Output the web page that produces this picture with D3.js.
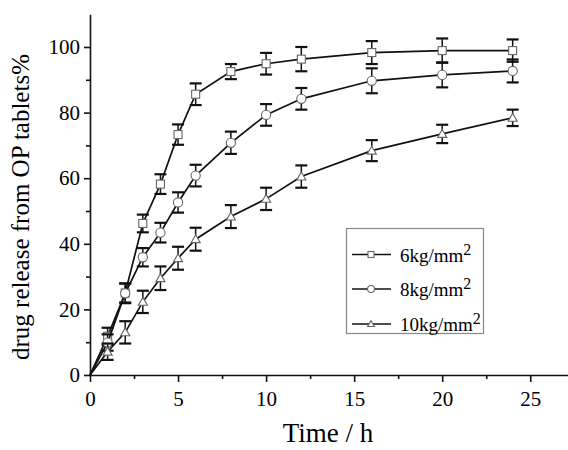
<!DOCTYPE html>
<html>
<head>
<meta charset="utf-8">
<script src="https://cdn.jsdelivr.net/npm/d3@7"></script>
<style>
  body { margin: 0; background: #fff; }
</style>
</head>
<body>
<div id="chart"></div>
<script>
// sampling times (h)
const times = [0, 1, 2, 3, 4, 5, 6, 8, 10, 12, 16, 20, 24];

// cumulative release (%) and error bars
const rel6 = [0, 11.8, 25.0, 46.2, 58.2, 73.3, 85.6, 92.5, 94.9, 96.3, 98.3, 98.9, 98.9];
const err6 = [0, 2.6, 2.9, 2.7, 3.0, 3.1, 3.3, 2.3, 3.3, 3.7, 3.5, 3.7, 3.4];
const rel8 = [0, 9.9, 24.9, 35.9, 43.4, 52.6, 60.8, 70.8, 79.3, 84.2, 89.7, 91.5, 92.7];
const err8 = [0, 2.5, 3.0, 2.8, 3.0, 3.1, 3.3, 3.4, 3.3, 3.3, 3.8, 3.8, 3.5];
const rel10 = [0, 7.1, 13.0, 22.3, 29.5, 35.6, 41.4, 48.3, 53.7, 60.5, 68.4, 73.5, 78.4];
const err10 = [0, 2.5, 3.4, 3.4, 3.6, 3.5, 3.5, 3.5, 3.4, 3.4, 3.2, 2.8, 2.5];

const seriesNames = ["6kg/mm", "8kg/mm", "10kg/mm"];
const seriesShapes = ["square", "circle", "triangle"];

const xTicks = [0, 5, 10, 15, 20, 25];
const xMinor = [2.5, 7.5, 12.5, 17.5, 22.5];
const yTicks = [0, 20, 40, 60, 80, 100];
const yMinor = [10, 30, 50, 70, 90];

const serif = '"Liberation Serif", "Times New Roman", Times, serif';

const W = 568, H = 450;
const svg = d3.select('#chart').append('svg')
  .attr('width', W)
  .attr('height', H)
  .style('font-family', serif);

const x = d3.scaleLinear().domain([0, 27.2]).range([90, 569]);
const y = d3.scaleLinear().domain([0, 110]).range([375, 14.2]);

// axes
const xAxis = svg.append('g')
  .attr('transform', `translate(0,${y(0)})`)
  .call(d3.axisBottom(x).tickValues(xTicks).tickSize(7).tickSizeOuter(0).tickPadding(4));
svg.append('g')
  .attr('transform', `translate(0,${y(0)})`)
  .call(d3.axisBottom(x).tickValues(xMinor).tickSize(4).tickSizeOuter(0).tickFormat(''))
  .select('.domain').remove();

const yAxis = svg.append('g')
  .attr('transform', `translate(${x(0)},0)`)
  .call(d3.axisLeft(y).tickValues(yTicks).tickSize(6).tickSizeOuter(0).tickPadding(4));
svg.append('g')
  .attr('transform', `translate(${x(0)},0)`)
  .call(d3.axisLeft(y).tickValues(yMinor).tickSize(4).tickSizeOuter(0).tickFormat(''))
  .select('.domain').remove();

svg.selectAll('g').attr('font-family', serif);
svg.selectAll('.domain, .tick line')
  .attr('stroke', '#111')
  .attr('stroke-width', 1.6);
xAxis.selectAll('text').style('font-family', serif).style('font-size', '21px').attr('dy', '0.95em');
yAxis.selectAll('text').style('font-family', serif).style('font-size', '21px');

// axis titles
svg.append('text')
  .attr('x', 328).attr('y', 442)
  .attr('text-anchor', 'middle')
  .style('font-family', serif)
  .style('font-size', '27px')
  .text('Time / h');

svg.append('text')
  .attr('transform', 'translate(29,207) rotate(-90)')
  .attr('text-anchor', 'middle')
  .style('font-family', serif)
  .style('font-size', '25px')
  .text('drug release from OP tablets%');

// marker drawing, s = scale
function marker(g, shape, cx, cy, s) {
  if (shape === 'square') {
    g.append('rect').attr('x', cx - 4 * s).attr('y', cy - 4 * s).attr('width', 8 * s).attr('height', 8 * s);
  } else if (shape === 'circle') {
    g.append('circle').attr('cx', cx).attr('cy', cy).attr('r', 4.6 * s);
  } else {
    g.append('path').attr('d', d3.symbol(d3.symbolTriangle, 36 * s * s)()).attr('transform', `translate(${cx},${cy + 0.8 * s})`);
  }
}

const allRel = [rel6, rel8, rel10];
const allErr = [err6, err8, err10];
const line = d3.line().x(d => x(d[0])).y(d => y(d[1]));

allRel.forEach((rel, k) => {
  const pts = times.map((t, i) => [t, rel[i], allErr[k][i]]);
  const g = svg.append('g');
  g.append('path')
    .attr('d', line(pts))
    .attr('fill', 'none')
    .attr('stroke', '#111')
    .attr('stroke-width', 1.7);

  // error bars
  const eb = g.selectAll('.eb').data(pts.filter(p => p[2] > 0)).join('g');
  eb.append('line')
    .attr('x1', d => x(d[0])).attr('x2', d => x(d[0]))
    .attr('y1', d => y(d[1] - d[2])).attr('y2', d => y(d[1] + d[2]))
    .attr('stroke', '#111').attr('stroke-width', 1.5);
  eb.selectAll('.cap').data(d => [[d[0], d[1] - d[2]], [d[0], d[1] + d[2]]]).join('line')
    .attr('x1', d => x(d[0]) - 6).attr('x2', d => x(d[0]) + 6)
    .attr('y1', d => y(d[1])).attr('y2', d => y(d[1]))
    .attr('stroke', '#111').attr('stroke-width', 2.2);

  const mg = g.append('g').attr('fill', '#fff').attr('stroke', '#666').attr('stroke-width', 1.1);
  pts.filter(p => p[0] > 0).forEach(p => marker(mg, seriesShapes[k], x(p[0]), y(p[1]), 1));
});

// legend
const leg = svg.append('g');
leg.append('rect')
  .attr('x', 346.5).attr('y', 228.5).attr('width', 137).attr('height', 105)
  .attr('fill', '#fff').attr('stroke', '#888').attr('stroke-width', 1.2);
const rowY = [254.5, 289, 324];
seriesNames.forEach((name, k) => {
  leg.append('line')
    .attr('x1', 352).attr('x2', 391).attr('y1', rowY[k]).attr('y2', rowY[k])
    .attr('stroke', '#111').attr('stroke-width', 1.5);
  const mg = leg.append('g').attr('fill', '#fff').attr('stroke', '#666').attr('stroke-width', 1.1);
  marker(mg, seriesShapes[k], 371, rowY[k], 0.75);
  const t = leg.append('text')
    .attr('x', 400).attr('y', rowY[k] + 7.2)
    .style('font-family', serif)
    .style('font-size', '19px')
    .text(name);
  t.append('tspan').attr('dy', -7).style('font-size', '16px').text('2');
});
</script>
</body>
</html>
